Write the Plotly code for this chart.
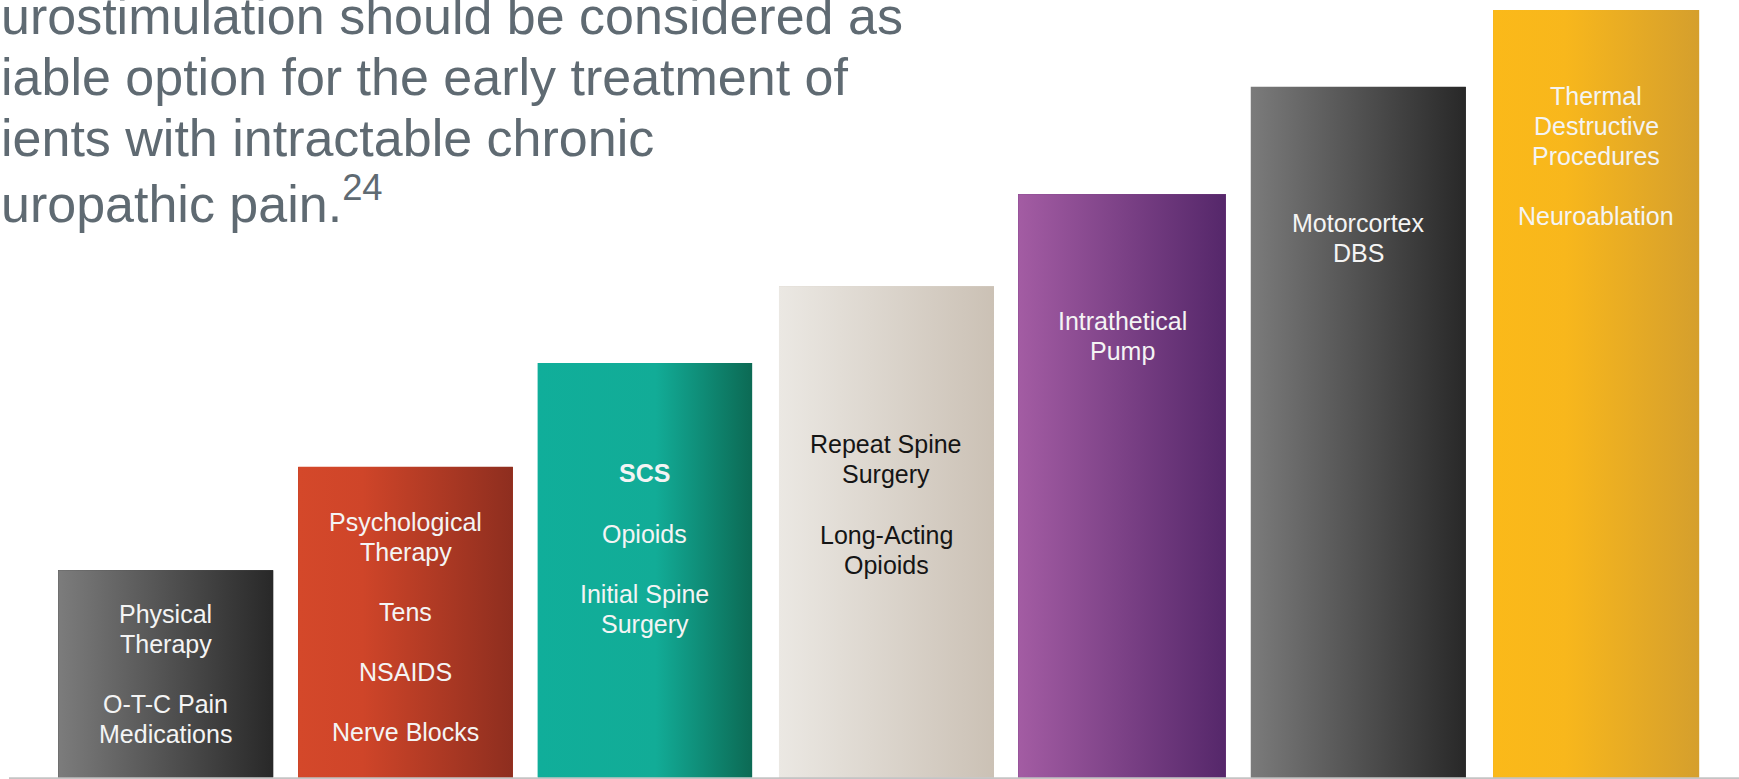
import plotly.graph_objects as go

# ---------------- data ----------------
categories = ["Physical Therapy", "Psychological Therapy", "SCS",
              "Repeat Spine Surgery", "Intrathetical Pump",
              "Motorcortex DBS", "Neuroablation"]
values = [2.7, 4.05, 5.4, 6.4, 7.6, 9.0, 10.0]

label_lines = [
    ["Physical", "Therapy", "", "O-T-C Pain", "Medications"],
    ["Psychological", "Therapy", "", "Tens", "", "NSAIDS", "", "Nerve Blocks"],
    ["<b>SCS</b>", "", "Opioids", "", "Initial Spine", "Surgery"],
    ["Repeat Spine", "Surgery", "", "Long-Acting", "Opioids"],
    ["Intrathetical", "Pump"],
    ["Motorcortex", "DBS"],
    ["Thermal", "Destructive", "Procedures", "", "Neuroablation"],
]

title_lines = [
    "urostimulation should be considered as",
    "iable option for the early treatment of",
    "ients with intractable chronic",
    "uropathic pain.<sup>24</sup>",
]

# ---------------- styles ----------------
bar_widths = [0.902, 0.9, 0.9, 0.902, 0.87, 0.902, 0.864]
bar_nudge = [0.0, 0.0055, 0.0096, 0.023, 0.011, 0.002, 0.0]  # small layout shifts
gradients = [
    [[0, "#7c7c7c"], [1, "#282828"]],
    [[0, "#d4482a"], [0.3, "#cf4529"], [1, "#8e2e1f"]],
    [[0, "#10ae9a"], [0.55, "#12ac97"], [1, "#0c6a54"]],
    [[0, "#ebe8e3"], [1, "#cbc1b5"]],
    [[0, "#a35ca3"], [1, "#55276a"]],
    [[0, "#7b7b7b"], [1, "#282828"]],
    [[0, "#fbb919"], [0.35, "#f8b71c"], [1, "#d59f2d"]],
]
mid_colors = ["#4f4f4f", "#b33c25", "#10a08c", "#dcd5cc", "#7d4288", "#4f4f4f", "#eaac22"]
text_colors = ["#f4f4f4"] * 3 + ["#151515"] + ["#f4f4f4"] * 3
label_first_y = [2.130, 3.333, 3.961, 4.339, 5.948, 7.221, 8.882]
line_step = 0.391
label_font = "Liberation Sans, Arial, sans-serif"
title_color = "#5f6a72"
title_centers_px = [15.5, 77, 138.5, 200]

W, H = 1739, 779
x_range = [-0.6955, 6.599]
y_range = [-0.0195, 10.13]

xs = list(range(len(categories)))
centers = [x + d for x, d in zip(xs, bar_nudge)]

fig = go.Figure()

# bars (base marks)
fig.add_trace(go.Bar(
    x=xs, y=values, width=bar_widths,
    offset=[d - w / 2 for d, w in zip(bar_nudge, bar_widths)],
    marker=dict(color=mid_colors, line=dict(width=0)),
    hovertext=categories, hoverinfo="text", showlegend=False,
))

# gradient overlays built from the same values / widths
for i, v in enumerate(values):
    w = bar_widths[i]
    x0, x1 = centers[i] - w / 2, centers[i] + w / 2
    fig.add_trace(go.Scatter(
        x=[x0, x1, x1, x0, x0], y=[0, 0, v, v, 0],
        mode="lines", line=dict(width=0, color="rgba(0,0,0,0)"),
        fill="toself",
        fillgradient=dict(type="horizontal", colorscale=gradients[i]),
        hoverinfo="skip", showlegend=False,
    ))

annotations = []
for i, lines in enumerate(label_lines):
    for j, t in enumerate(lines):
        if not t:
            continue
        annotations.append(dict(
            x=centers[i], y=label_first_y[i] - j * line_step, xref="x", yref="y",
            text=t, showarrow=False, xanchor="center", yanchor="middle",
            font=dict(family=label_font, size=25, color=text_colors[i]),
        ))

for k, t in enumerate(title_lines):
    annotations.append(dict(
        x=0, y=1 - title_centers_px[k] / H, xref="paper", yref="paper",
        text=t, showarrow=False, xanchor="left", yanchor="middle",
        font=dict(family=label_font, size=52, color=title_color),
        borderpad=0,
    ))

fig.update_layout(
    width=W, height=H, autosize=False,
    margin=dict(l=0, r=0, t=0, b=0, pad=0),
    paper_bgcolor="white", plot_bgcolor="white",
    xaxis=dict(range=x_range, visible=False, fixedrange=True),
    yaxis=dict(range=y_range, visible=False, fixedrange=True),
    annotations=annotations,
    shapes=[dict(type="line", xref="paper", yref="y",
                 x0=9 / W, x1=1, y0=-0.0104, y1=-0.0104,
                 line=dict(color="#c4c4c4", width=2), layer="above")],
    bargap=0,
    hovermode="closest",
)

fig.write_html(
    "out.html",
    config={"displayModeBar": False},
    post_script="document.body.style.margin='0';document.body.style.overflow='hidden';",
)
